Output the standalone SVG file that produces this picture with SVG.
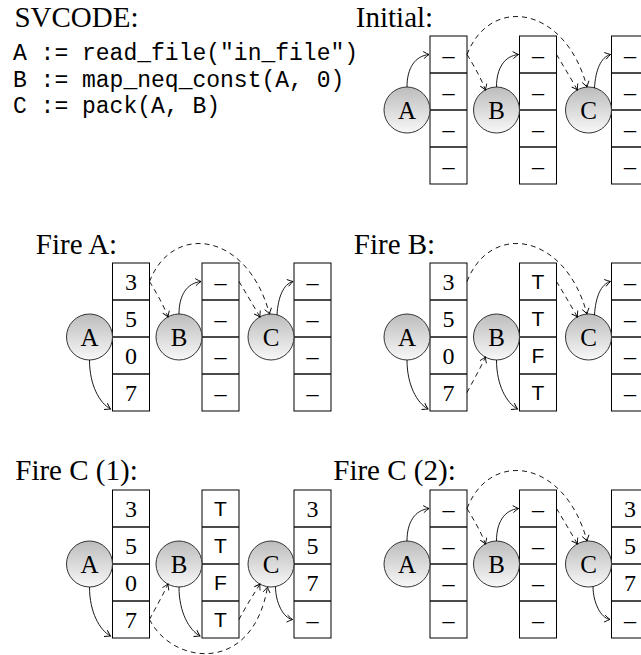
<svg xmlns="http://www.w3.org/2000/svg" width="641" height="655" viewBox="0 0 641 655">
<style>
.title{font-family:"Liberation Serif",serif;font-size:29px;fill:#000;text-anchor:middle}
.code{font-family:"Liberation Mono",monospace;font-size:23px;fill:#000}
.col{fill:#fff;stroke:#000;stroke-width:1}
.div{stroke:#111;stroke-width:1.7}
.cell{font-family:"Liberation Serif",serif;font-size:24px;fill:#000;text-anchor:middle}
.sf{font-family:"Liberation Sans",sans-serif;font-size:21px;fill:#000;text-anchor:middle}
.node{fill:url(#g);stroke:#333;stroke-width:1}
.lbl{font-family:"Liberation Serif",serif;font-size:25px;fill:#000;text-anchor:middle}
.s{fill:none;stroke:#000;stroke-width:0.9;marker-end:url(#ah)}
.d{fill:none;stroke:#000;stroke-width:0.9;stroke-dasharray:5 4;marker-end:url(#ah)}
</style>
<defs>
<linearGradient id="g" x1="0" y1="0" x2="0" y2="1">
<stop offset="0" stop-color="#bcbcbc"/>
<stop offset="1" stop-color="#f8f8f8"/>
</linearGradient>
<marker id="ah" viewBox="-7 -5 9 10" refX="0" refY="0" markerWidth="9" markerHeight="10" orient="auto" markerUnits="userSpaceOnUse">
<path d="M-5.5,-3.5 Q-2,-1 0,0 Q-2,1 -5.5,3.5" fill="none" stroke="#000" stroke-width="0.9"/>
</marker>
</defs>

<g id="code">
<text class="title" x="76.5" y="27">SVCODE:</text>
<text class="code" x="13" y="60">A := read_file("in_file")</text>
<text class="code" x="13" y="87">B := map_neq_const(A, 0)</text>
<text class="code" x="13" y="113">C := pack(A, B)</text>
</g>

<!-- Initial -->
<g id="initial">
<text class="title" x="394.5" y="27">Initial:</text>
<g id="init-colA"><rect class="col" x="430" y="36" width="37" height="148"/><path class="div" d="M430,73H467M430,110H467M430,147H467"/>
<text class="cell" x="448.5" y="62.5">–</text><text class="cell" x="448.5" y="99.5">–</text><text class="cell" x="448.5" y="136.5">–</text><text class="cell" x="448.5" y="173.5">–</text></g>
<g id="init-colB"><rect class="col" x="519.5" y="36" width="37" height="148"/><path class="div" d="M519.5,73H556.5M519.5,110H556.5M519.5,147H556.5"/>
<text class="cell" x="538" y="62.5">–</text><text class="cell" x="538" y="99.5">–</text><text class="cell" x="538" y="136.5">–</text><text class="cell" x="538" y="173.5">–</text></g>
<g id="init-colC"><rect class="col" x="611.5" y="36" width="37" height="148"/><path class="div" d="M611.5,73H648.5M611.5,110H648.5M611.5,147H648.5"/>
<text class="cell" x="630" y="62.5">–</text><text class="cell" x="630" y="99.5">–</text><text class="cell" x="630" y="136.5">–</text><text class="cell" x="630" y="173.5">–</text></g>
<g id="init-A"><circle class="node" cx="407" cy="110" r="23"/><text class="lbl" x="407" y="118.5">A</text></g>
<g id="init-B"><circle class="node" cx="496.5" cy="110" r="23"/><text class="lbl" x="496.5" y="118.5">B</text></g>
<g id="init-C"><circle class="node" cx="588.5" cy="110" r="23"/><text class="lbl" x="588.5" y="118.5">C</text></g>
<g id="init-edges">
<path class="s" d="M407,87 C407,68 415,56 429,54.5"/>
<path class="d" d="M467,54.5 C474,66 481,78 485.5,90"/>
<path class="s" d="M496.5,87 C496.5,68 504.5,56 518.5,54.5"/>
<path class="d" d="M556.5,54.5 C563.5,66 570.5,78 577.5,90"/>
<path class="d" d="M467,54.5 C490,-5 565,5 587,87"/>
<path class="s" d="M594.5,88 C595.5,70 601,57 610.5,54.5"/>
</g>
</g>

<!-- Fire A -->
<g id="fireA">
<text class="title" x="76.5" y="254">Fire A:</text>
<g id="fa-colA"><rect class="col" x="112.5" y="263" width="37" height="148"/><path class="div" d="M112.5,300H149.5M112.5,337H149.5M112.5,374H149.5"/>
<text class="cell" x="131" y="289.5">3</text><text class="cell" x="131" y="326.5">5</text><text class="cell" x="131" y="363.5">0</text><text class="cell" x="131" y="400.5">7</text></g>
<g id="fa-colB"><rect class="col" x="202" y="263" width="37" height="148"/><path class="div" d="M202,300H239M202,337H239M202,374H239"/>
<text class="cell" x="220.5" y="289.5">–</text><text class="cell" x="220.5" y="326.5">–</text><text class="cell" x="220.5" y="363.5">–</text><text class="cell" x="220.5" y="400.5">–</text></g>
<g id="fa-colC"><rect class="col" x="294" y="263" width="37" height="148"/><path class="div" d="M294,300H331M294,337H331M294,374H331"/>
<text class="cell" x="312.5" y="289.5">–</text><text class="cell" x="312.5" y="326.5">–</text><text class="cell" x="312.5" y="363.5">–</text><text class="cell" x="312.5" y="400.5">–</text></g>
<g id="fa-A"><circle class="node" cx="89.5" cy="337" r="23"/><text class="lbl" x="89.5" y="345.5">A</text></g>
<g id="fa-B"><circle class="node" cx="179" cy="337" r="23"/><text class="lbl" x="179" y="345.5">B</text></g>
<g id="fa-C"><circle class="node" cx="271" cy="337" r="23"/><text class="lbl" x="271" y="345.5">C</text></g>
<g id="fa-edges">
<path class="s" d="M89.5,360 C89.5,385 99.5,403 110.5,409"/>
<path class="d" d="M149.5,281.5 C156.5,293 163.5,305 168,317"/>
<path class="s" d="M179,314 C179,295 187,283 201,281.5"/>
<path class="d" d="M239,281.5 C246,293 253,305 260,317"/>
<path class="d" d="M149.5,281.5 C172.5,222 247.5,232 269.5,314"/>
<path class="s" d="M277,315 C278,297 283.5,284 293,281.5"/>
</g>
</g>

<!-- Fire B -->
<g id="fireB">
<text class="title" x="394.5" y="254">Fire B:</text>
<g id="fb-colA"><rect class="col" x="430" y="263" width="37" height="148"/><path class="div" d="M430,300H467M430,337H467M430,374H467"/>
<text class="cell" x="448.5" y="289.5">3</text><text class="cell" x="448.5" y="326.5">5</text><text class="cell" x="448.5" y="363.5">0</text><text class="cell" x="448.5" y="400.5">7</text></g>
<g id="fb-colB"><rect class="col" x="519.5" y="263" width="37" height="148"/><path class="div" d="M519.5,300H556.5M519.5,337H556.5M519.5,374H556.5"/>
<text class="sf" x="538" y="289">T</text><text class="sf" x="538" y="326">T</text><text class="sf" x="538" y="363">F</text><text class="sf" x="538" y="400">T</text></g>
<g id="fb-colC"><rect class="col" x="611.5" y="263" width="37" height="148"/><path class="div" d="M611.5,300H648.5M611.5,337H648.5M611.5,374H648.5"/>
<text class="cell" x="630" y="289.5">–</text><text class="cell" x="630" y="326.5">–</text><text class="cell" x="630" y="363.5">–</text><text class="cell" x="630" y="400.5">–</text></g>
<g id="fb-A"><circle class="node" cx="407" cy="337" r="23"/><text class="lbl" x="407" y="345.5">A</text></g>
<g id="fb-B"><circle class="node" cx="496.5" cy="337" r="23"/><text class="lbl" x="496.5" y="345.5">B</text></g>
<g id="fb-C"><circle class="node" cx="588.5" cy="337" r="23"/><text class="lbl" x="588.5" y="345.5">C</text></g>
<g id="fb-edges">
<path class="s" d="M407,360 C407,385 417,403 428,409"/>
<path class="d" d="M467,281.5 C490,222 565,232 587,314"/>
<path class="d" d="M556.5,281.5 C563.5,293 570.5,305 577.5,317"/>
<path class="d" d="M467,392.5 C473,381 480,369 485.5,357"/>
<path class="s" d="M496.5,360 C496.5,385 506.5,403 517.5,409"/>
<path class="s" d="M594.5,315 C595.5,297 601,284 610.5,281.5"/>
</g>
</g>

<!-- Fire C (1) -->
<g id="fireC1">
<text class="title" x="76.5" y="480">Fire C (1):</text>
<g id="fc1-colA"><rect class="col" x="112.5" y="490" width="37" height="148"/><path class="div" d="M112.5,527H149.5M112.5,564H149.5M112.5,601H149.5"/>
<text class="cell" x="131" y="516.5">3</text><text class="cell" x="131" y="553.5">5</text><text class="cell" x="131" y="590.5">0</text><text class="cell" x="131" y="627.5">7</text></g>
<g id="fc1-colB"><rect class="col" x="202" y="490" width="37" height="148"/><path class="div" d="M202,527H239M202,564H239M202,601H239"/>
<text class="sf" x="220.5" y="516">T</text><text class="sf" x="220.5" y="553">T</text><text class="sf" x="220.5" y="590">F</text><text class="sf" x="220.5" y="627">T</text></g>
<g id="fc1-colC"><rect class="col" x="294" y="490" width="37" height="148"/><path class="div" d="M294,527H331M294,564H331M294,601H331"/>
<text class="cell" x="312.5" y="516.5">3</text><text class="cell" x="312.5" y="553.5">5</text><text class="cell" x="312.5" y="590.5">7</text><text class="cell" x="312.5" y="627.5">–</text></g>
<g id="fc1-A"><circle class="node" cx="89.5" cy="564" r="23"/><text class="lbl" x="89.5" y="572.5">A</text></g>
<g id="fc1-B"><circle class="node" cx="179" cy="564" r="23"/><text class="lbl" x="179" y="572.5">B</text></g>
<g id="fc1-C"><circle class="node" cx="271" cy="564" r="23"/><text class="lbl" x="271" y="572.5">C</text></g>
<g id="fc1-edges">
<path class="s" d="M89.5,587 C89.5,612 99.5,630 110.5,636"/>
<path class="d" d="M149.5,619.5 C155.5,608 162.5,596 168,584"/>
<path class="d" d="M149.5,619.5 C172.5,665 252.5,675 267.5,587"/>
<path class="d" d="M239,619.5 C245,608 252.5,596 260,584"/>
<path class="s" d="M179,587 C179,612 189,630 200,636"/>
<path class="s" d="M275.5,586.5 C275.5,602 283,618 292.5,619.5"/>
</g>
</g>

<!-- Fire C (2) -->
<g id="fireC2">
<text class="title" x="394.5" y="480">Fire C (2):</text>
<g id="fc2-colA"><rect class="col" x="430" y="490" width="37" height="148"/><path class="div" d="M430,527H467M430,564H467M430,601H467"/>
<text class="cell" x="448.5" y="516.5">–</text><text class="cell" x="448.5" y="553.5">–</text><text class="cell" x="448.5" y="590.5">–</text><text class="cell" x="448.5" y="627.5">–</text></g>
<g id="fc2-colB"><rect class="col" x="519.5" y="490" width="37" height="148"/><path class="div" d="M519.5,527H556.5M519.5,564H556.5M519.5,601H556.5"/>
<text class="cell" x="538" y="516.5">–</text><text class="cell" x="538" y="553.5">–</text><text class="cell" x="538" y="590.5">–</text><text class="cell" x="538" y="627.5">–</text></g>
<g id="fc2-colC"><rect class="col" x="611.5" y="490" width="37" height="148"/><path class="div" d="M611.5,527H648.5M611.5,564H648.5M611.5,601H648.5"/>
<text class="cell" x="630" y="516.5">3</text><text class="cell" x="630" y="553.5">5</text><text class="cell" x="630" y="590.5">7</text><text class="cell" x="630" y="627.5">–</text></g>
<g id="fc2-A"><circle class="node" cx="407" cy="564" r="23"/><text class="lbl" x="407" y="572.5">A</text></g>
<g id="fc2-B"><circle class="node" cx="496.5" cy="564" r="23"/><text class="lbl" x="496.5" y="572.5">B</text></g>
<g id="fc2-C"><circle class="node" cx="588.5" cy="564" r="23"/><text class="lbl" x="588.5" y="572.5">C</text></g>
<g id="fc2-edges">
<path class="s" d="M407,541 C407,522 415,510 429,508.5"/>
<path class="d" d="M467,508.5 C474,520 481,532 485.5,544"/>
<path class="d" d="M467,508.5 C490,449 565,459 587,541"/>
<path class="s" d="M496.5,541 C496.5,522 504.5,510 518.5,508.5"/>
<path class="d" d="M556.5,508.5 C563.5,520 570.5,532 577.5,544"/>
<path class="s" d="M593,586.5 C593,602 600.5,618 610,619.5"/>
</g>
</g>
</svg>
